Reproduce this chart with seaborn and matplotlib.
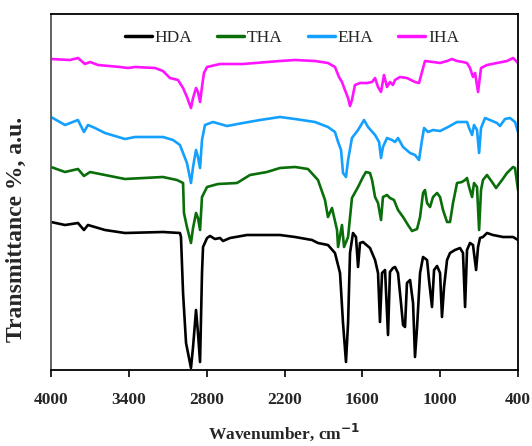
import numpy as np
import pandas as pd
import matplotlib
matplotlib.use("Agg")
import matplotlib.pyplot as plt
import seaborn as sns
from matplotlib.lines import Line2D

# ---- data (wavenumber cm^-1, transmittance a.u.) ----
hda_wn = [4000, 3892, 3792, 3746, 3715, 3584, 3430, 3137, 3006, 2998, 2982, 2959, 2921, 2905, 2882, 2867, 2851,
          2836, 2828, 2797, 2774, 2736, 2697, 2674, 2620, 2489, 2235, 2119, 1988, 1942, 1865, 1811, 1772, 1749,
          1726, 1710, 1695, 1672, 1649, 1633, 1618, 1595, 1541, 1502, 1479, 1464, 1448, 1425, 1402, 1387, 1364,
          1348, 1325, 1302, 1286, 1271, 1256, 1232, 1209, 1194, 1178, 1155, 1132, 1101, 1086, 1063, 1047, 1024,
          1001, 986, 970, 947, 924, 886, 847, 824, 808, 793, 770, 747, 723, 708, 693, 670, 639, 593, 515, 438, 400]
hda_t = [148, 145, 147, 140, 145, 140, 137, 138, 137, 133, 77, 27, 2, 23, 60, 37, 8,
         97, 123, 132, 134, 131, 132, 129, 132, 135, 135, 133, 130, 127, 125, 117, 97, 47,
         8, 47, 117, 137, 133, 103, 127, 128, 122, 110, 97, 48, 97, 100, 35, 98, 102,
         103, 97, 67, 45, 43, 87, 90, 67, 13, 43, 97, 113, 110, 90, 63, 100, 104,
         97, 53, 83, 110, 117, 120, 122, 117, 63, 120, 127, 125, 100, 123, 132, 133, 137, 135, 133, 133, 130]

tha_wn = [4000, 3892, 3792, 3746, 3699, 3584, 3430, 3137, 3029, 2982, 2975, 2952, 2921, 2905, 2882, 2867, 2851,
          2836, 2797, 2713, 2566, 2466, 2335, 2235, 2119, 2019, 1942, 1888, 1865, 1834, 1795, 1787, 1757, 1741,
          1710, 1680, 1633, 1595, 1572, 1541, 1525, 1502, 1479, 1456, 1441, 1410, 1387, 1356, 1325, 1286, 1248,
          1217, 1178, 1155, 1132, 1117, 1101, 1078, 1055, 1024, 1001, 978, 947, 924, 901, 870, 832, 808, 793,
          777, 754, 739, 716, 700, 685, 670, 639, 600, 569, 523, 485, 438, 423, 400]
tha_t = [203, 198, 201, 194, 198, 195, 191, 193, 190, 187, 157, 143, 127, 142, 157, 152, 140,
         173, 183, 186, 187, 195, 198, 202, 203, 201, 190, 170, 153, 162, 140, 123, 145, 123,
         133, 172, 183, 193, 198, 197, 190, 173, 167, 150, 173, 175, 172, 170, 160, 153, 145,
         139, 141, 153, 177, 180, 167, 163, 173, 177, 173, 160, 148, 148, 167, 187, 188, 190, 192,
         183, 173, 187, 183, 140, 180, 190, 195, 188, 182, 190, 197, 203, 202, 180]

eha_wn = [4000, 3892, 3792, 3746, 3715, 3661, 3584, 3430, 3352, 3137, 3059, 3006, 2982, 2952, 2921, 2905, 2882,
          2867, 2851, 2836, 2813, 2751, 2643, 2520, 2389, 2235, 2119, 1965, 1865, 1811, 1787, 1764, 1749, 1726,
          1710, 1680, 1633, 1587, 1556, 1502, 1471, 1456, 1441, 1410, 1371, 1348, 1325, 1286, 1232, 1194, 1163,
          1140, 1124, 1094, 1055, 1001, 939, 870, 793, 777, 754, 739, 716, 700, 685, 654, 616, 562, 539, 500,
          462, 423, 400]
eha_t = [253, 245, 250, 238, 245, 242, 237, 231, 233, 233, 230, 225, 217, 207, 187, 203, 220,
         213, 202, 230, 245, 248, 244, 247, 250, 253, 251, 248, 243, 238, 228, 220, 197, 193,
         210, 232, 240, 250, 243, 235, 228, 212, 223, 232, 230, 228, 232, 223, 217, 215, 210,
         230, 242, 238, 240, 239, 243, 248, 248, 242, 235, 245, 240, 217, 242, 252, 250, 247, 244, 251,
         252, 248, 238]

iha_wn = [4000, 3854, 3792, 3738, 3699, 3638, 3468, 3406, 3352, 3198, 3137, 3083, 3021, 2982, 2952, 2921, 2905,
          2882, 2867, 2851, 2836, 2821, 2797, 2697, 2520, 2235, 2119, 1965, 1865, 1811, 1780, 1757, 1734, 1710,
          1695, 1680, 1657, 1618, 1564, 1525, 1502, 1479, 1456, 1433, 1410, 1387, 1364, 1348, 1310, 1256, 1194,
          1163, 1140, 1117, 1055, 1001, 947, 909, 870, 824, 793, 770, 747, 731, 708, 685, 639, 562, 485, 438,
          415, 400]
iha_t = [311, 310, 312, 306, 308, 305, 303, 302, 303, 302, 299, 292, 290, 282, 273, 262, 272,
         282, 278, 268, 283, 297, 303, 306, 306, 309, 310, 309, 307, 303, 293, 288, 280, 272,
         264, 270, 285, 287, 287, 288, 292, 283, 278, 295, 283, 288, 285, 290, 293, 292, 288,
         287, 298, 309, 308, 307, 309, 311, 309, 308, 307, 302, 293, 297, 278, 302, 305, 307, 309, 312,
         309, 307]

series_names = ["HDA", "THA", "EHA", "IHA"]
series_colors = ["#000000", "#0a6e0a", "#14a0ff", "#ff14ff"]
x_ticks = [4000, 3400, 2800, 2200, 1600, 1000, 400]

frames = []
for name, wn, t in zip(series_names, [hda_wn, tha_wn, eha_wn, iha_wn], [hda_t, tha_t, eha_t, iha_t]):
    frames.append(pd.DataFrame({"wn": wn, "t": t, "sample": name}))
df = pd.concat(frames, ignore_index=True)

sns.set_theme(style="white")
plt.rcParams["font.family"] = ["Liberation Serif", "DejaVu Serif"]

fig = plt.figure(figsize=(5.32, 4.46), dpi=100)
ax = fig.add_axes([51 / 532, 76 / 446, 467 / 532, 356 / 446])

sns.lineplot(data=df, x="wn", y="t", hue="sample", hue_order=series_names,
             palette=series_colors, estimator=None, sort=False, linewidth=1.9, ax=ax, legend=False)

ax.set_xlim(4000, 400)
ax.set_ylim(0, 356)
ax.set_xticks(x_ticks)
ax.set_xticklabels([str(v) for v in x_ticks], fontsize=12.5, fontweight="bold")
ax.set_yticks([])
ax.tick_params(axis="x", direction="out", length=5, width=1.2, color="black", pad=11, bottom=True)
for s in ax.spines.values():
    s.set_visible(True)
    s.set_color("black")
    s.set_linewidth(1.3)
ax.spines["left"].set_color("#555555")

ax.set_xlabel("Wavenumber, cm$^{\\mathbf{-1}}$", fontsize=12.5, fontweight="bold", labelpad=10)
ax.set_ylabel("Transmittance %, a.u.", fontsize=17, fontweight="bold")
ax.yaxis.set_label_coords(-0.051, 0.396)

handles = [Line2D([0], [0], color=c, lw=2.5) for c in series_colors]
ax.legend(handles, series_names, loc="upper center", bbox_to_anchor=(0.516, 1.0), ncol=4, frameon=False,
          fontsize=12.5, handlelength=1.55, handletextpad=0.15, columnspacing=1.45)

fig.savefig("out.png", dpi=100)
